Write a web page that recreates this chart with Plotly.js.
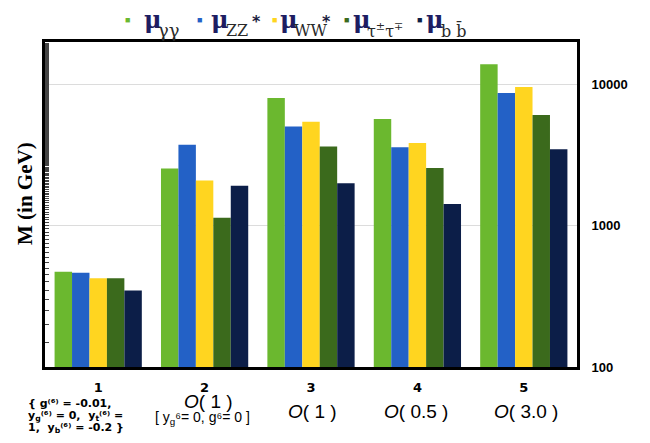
<!DOCTYPE html>
<html><head><meta charset="utf-8">
<script src="https://cdn.plot.ly/plotly-3.0.1.min.js"></script>
<style>body{margin:0;background:#fff}#c{width:650px;height:443px}</style>
</head><body><div id="c"></div>
<script>
const categories = ['1','2','3','4','5'];
const seriesSubs = ['γγ', 'ZZ', 'WW', 'τ<sup>±</sup>τ<sup>∓</sup>', 'b b\u0304'];
const seriesStars = ['', '*', '*', '', ''];
const colors = ['#6bb82f','#2361c6','#ffd520','#3b6a1c','#0c1e48'];
const muGammaGamma = [473, 2535, 8000, 5690, 13900];
const muZZ = [464, 3734, 5045, 3592, 8690];
const muWW = [425, 2088, 5446, 3855, 9570];
const muTauTau = [425, 1139, 3633, 2564, 6070];
const muBB = [348, 1915, 2000, 1423, 3477];
const seriesValues = [muGammaGamma, muZZ, muWW, muTauTau, muBB];
const yTickVals = [100, 1000, 10000];
const yTickText = ['100','1000','10000'];
const groupNotes = ['<i>O</i>( 1 )','<i>O</i>( 1 )','<i>O</i>( 0.5 )','<i>O</i>( 3.0 )'];

const traces = seriesValues.map((v,i)=>({
  type:'bar', x:categories, y:v, name:'μ '+seriesSubs[i]+seriesStars[i], showlegend:false,
  marker:{color:colors[i], line:{width:0}}
}));
traces.push({type:'scatter', x:categories, y:muGammaGamma, yaxis:'y2', mode:'none', showlegend:false, hoverinfo:'skip'});

const L = 45, W = 532, B = 367, H = 325;
const px = x => (x - L) / W;
const py = y => (B - y) / H;
const txt = (text, x, y, font, xa) => ({text, xref:'paper', yref:'paper', x:px(x), y:py(y), xanchor:xa||'left', yanchor:'middle', showarrow:false, font});

const leftFont = {size:11, family:'DejaVu Sans, sans-serif', color:'#000'};
const annotations = [
  Object.assign(txt('<b>M (in GeV)</b>', 25, 194, {family:'Liberation Serif, serif', size:21, color:'#000'}, 'center'), {textangle:-90}),
  txt('<b>{ g⁽⁶⁾ = -0.01,</b>', 26, 403, leftFont),
  txt('<b>y<sub>g</sub>⁽⁶⁾ = 0,  y<sub>t</sub>⁽⁶⁾ =</b>', 26, 416, leftFont),
  txt('<b>1,  y<sub>b</sub>⁽⁶⁾ = -0.2 }</b>', 26, 428, leftFont),
  txt('[ y<sub>g</sub>⁶= 0, g⁶= 0 ]', 153, 418, {size:14, color:'#000'})
];
const noteX = [208, 312, 416, 526];
const noteY = [401, 411, 411, 411];
groupNotes.forEach((t,i)=>annotations.push(txt(t, noteX[i], noteY[i], {size:19, color:'#000'}, 'center')));

// legend built from annotations
const sqX = [127, 199, 274, 346, 419];
const muX = [142, 209, 278, 351, 424];
const subX = [156, 224, 292, 365, 439];
const starX = [0, 250, 320, 0, 0];
seriesSubs.forEach((s,i)=>{
  annotations.push(txt('■', sqX[i], 20, {size:9, color:colors[i]}, 'center'));
  annotations.push(txt('<b>μ</b>', muX[i], 19, {size:24, family:'DejaVu Serif, serif', color:'#1d1d62'}));
  annotations.push(txt(s, subX[i], 30, {size:i===0?18:16, family:'DejaVu Serif, serif', color:'#2a2a2a'}));
  if (seriesStars[i]) annotations.push(txt('<b>*</b>', starX[i], 21, {size:16, family:'DejaVu Sans, sans-serif', color:'#1d1d40'}));
});

const layout = {
  width:650, height:443,
  margin:{l:L, r:650-L-W, t:B-H, b:443-B, autoexpand:false},
  paper_bgcolor:'#fff', plot_bgcolor:'#fff',
  barmode:'group', bargap:0.18, bargroupgap:0,
  font:{family:'Liberation Sans, Arial, sans-serif', color:'#000'},
  showlegend:false,
  xaxis:{type:'category', showline:true, linewidth:3, linecolor:'#000', mirror:true,
    ticks:'', tickfont:{size:13, family:'DejaVu Sans'}, ticklabelstandoff:6,
    tickprefix:'<b>', ticksuffix:'</b>', showgrid:false},
  yaxis:{type:'log', range:[2, 4.3], side:'right', showline:true, linewidth:3, linecolor:'#000', mirror:true,
    tickvals:yTickVals, ticktext:yTickText.map(t=>'<b>'+t+'</b>'), ticks:'', showgrid:true, gridcolor:'#dcdcdc', gridwidth:1,
    tickfont:{size:13, family:'Liberation Sans Narrow, Liberation Sans', color:'#000'}, ticklabelstandoff:9, zeroline:false},
  yaxis2:{type:'log', range:[2, 4.3], overlaying:'y', side:'left', showticklabels:false, showgrid:false,
    ticks:'inside', ticklen:4, tickcolor:'#444', tickvals:yTickVals,
    minor:{ticks:'inside', ticklen:4, tickcolor:'#444', showgrid:false}},
  annotations:annotations
};
Plotly.newPlot('c', traces, layout, {displayModeBar:false, staticPlot:true});
</script></body></html>
